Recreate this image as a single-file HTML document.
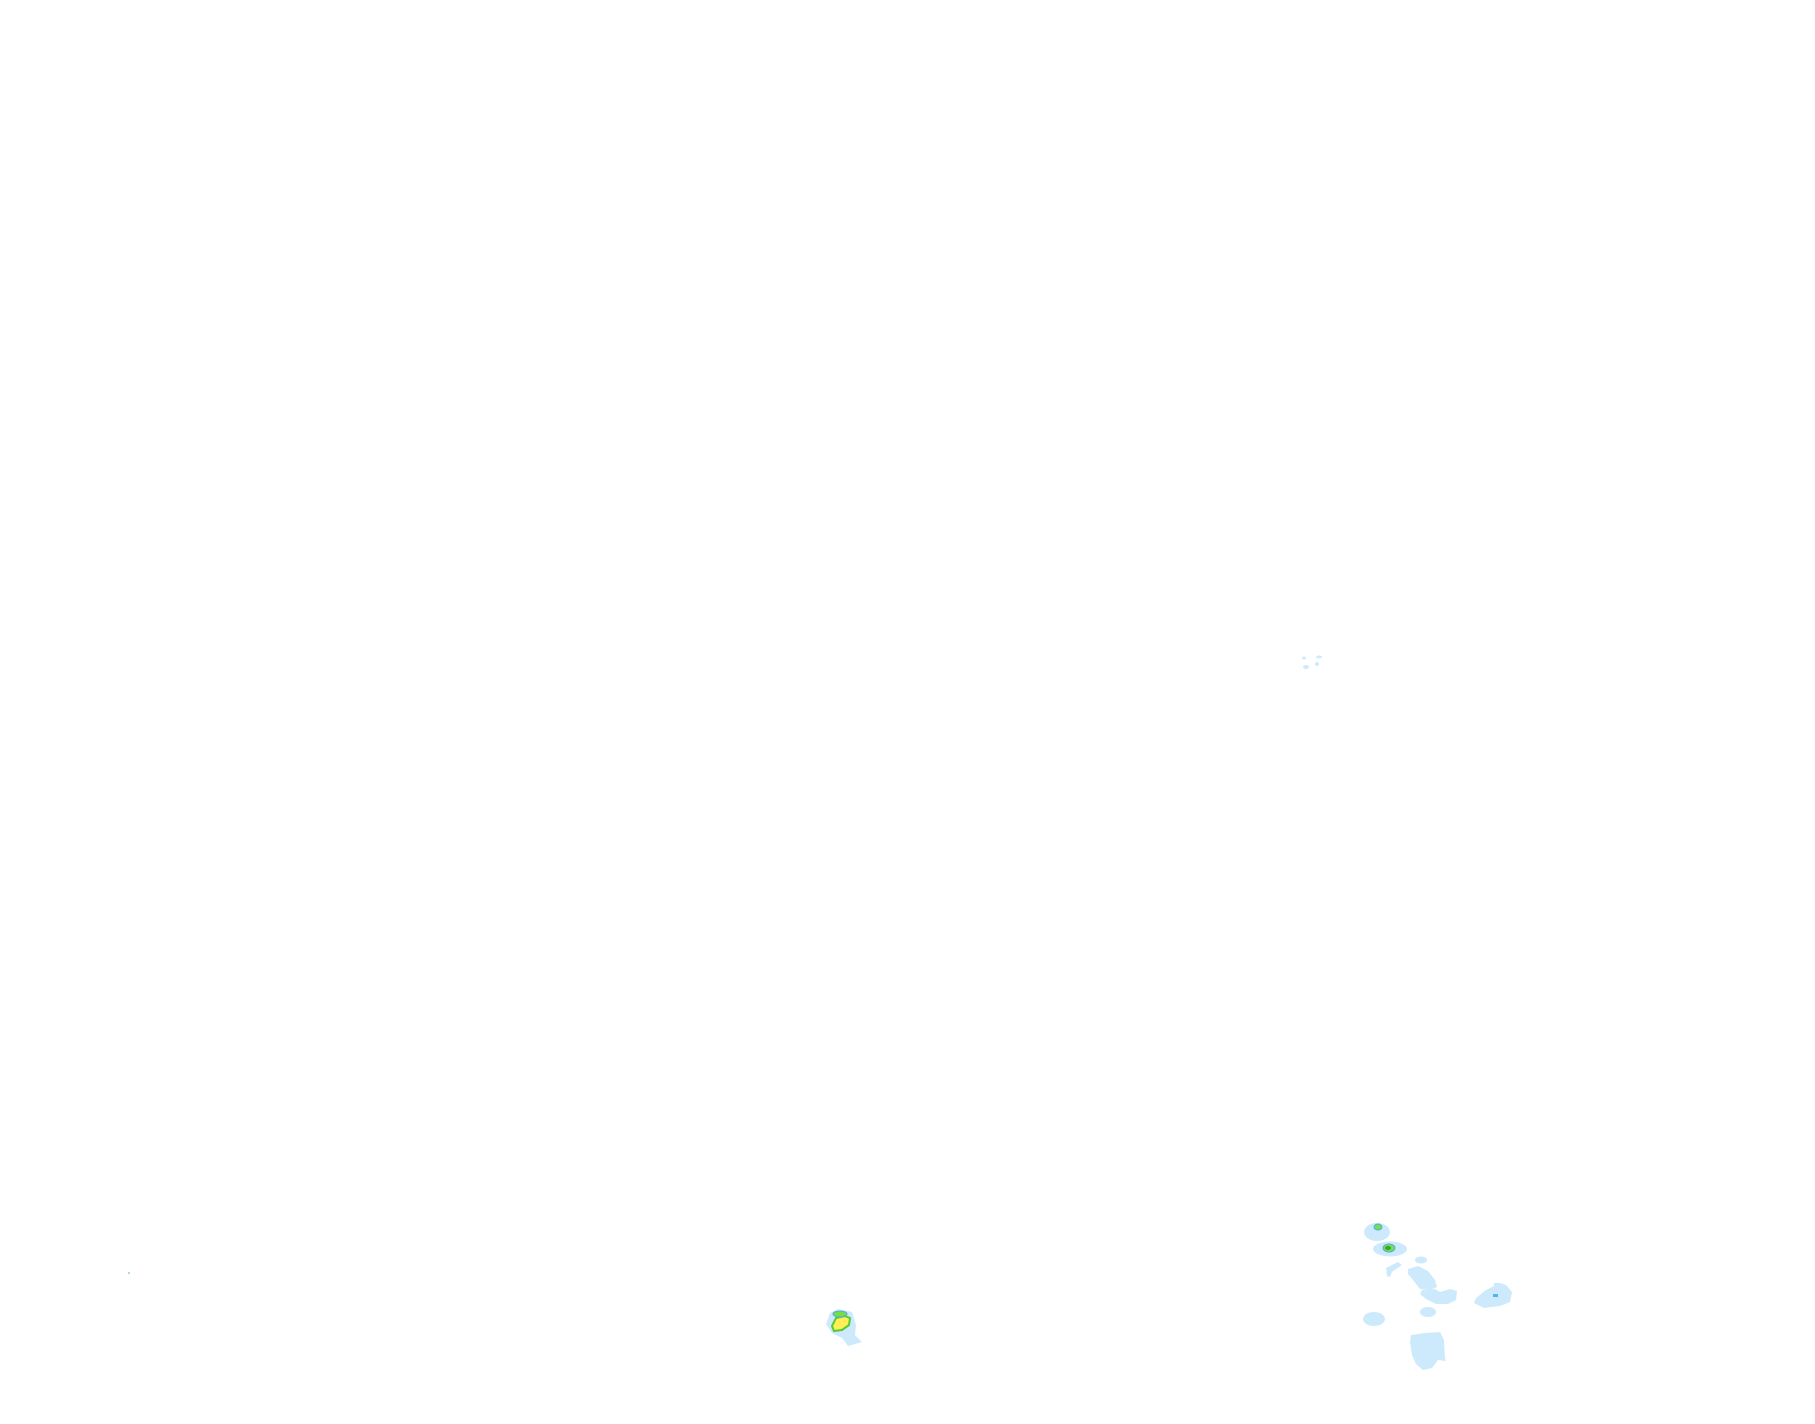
<!DOCTYPE html>
<html><head><meta charset="utf-8"><style>html,body{margin:0;padding:0;background:#fff}svg{display:block}</style></head>
<body>
<svg width="1815" height="1424" viewBox="0 0 1815 1424" xmlns="http://www.w3.org/2000/svg">
<rect width="1815" height="1424" fill="#fff"/>
<g fill="#cdeafd">
<ellipse cx="1304" cy="658" rx="2" ry="1.5"/>
<ellipse cx="1319" cy="657" rx="3" ry="1.5"/>
<ellipse cx="1306" cy="667" rx="3" ry="2"/>
<ellipse cx="1317" cy="664" rx="2" ry="2"/>
<path d="M838 1309 L852 1312 L856 1325 L855 1335 L862 1342 L848 1346 L842 1338 L832 1333 L826 1324 L830 1313 Z"/>
<ellipse cx="1377" cy="1232" rx="13" ry="9"/>
<ellipse cx="1390" cy="1249" rx="17" ry="7.5"/>
<ellipse cx="1421" cy="1260" rx="6" ry="3.5"/>
<path d="M1386 1268 L1398 1262 L1402 1265 L1392 1272 L1390 1277 L1387 1276 Z"/>
<path d="M1408 1269 L1418 1266 L1428 1271 L1435 1280 L1437 1287 L1430 1290 L1420 1289 L1413 1280 L1408 1274 Z"/>
<path d="M1422 1290 L1435 1289 L1440 1292 L1450 1289 L1457 1291 L1456 1300 L1448 1304 L1436 1304 L1426 1299 L1420 1294 Z"/>
<path d="M1476 1298 L1486 1290 L1494 1286 L1494 1283 L1500 1283 L1506 1285 L1512 1292 L1510 1302 L1500 1306 L1484 1308 L1474 1303 Z"/>
<ellipse cx="1428" cy="1312" rx="8" ry="5"/>
<ellipse cx="1374" cy="1319" rx="11" ry="7"/>
<path d="M1411 1335 L1425 1333 L1440 1332 L1444 1340 L1445 1358 L1446 1361 L1438 1360 L1432 1368 L1423 1370 L1416 1364 L1412 1355 L1410 1342 Z"/>
</g>
<path d="M832 1326 L836 1318 L845 1316 L850 1318 L849 1325 L842 1330 L834 1331 Z" fill="#ffee55" stroke="#55cc33" stroke-width="2"/>
<ellipse cx="840" cy="1314" rx="7" ry="3" fill="#77dd44" stroke="#55aadd" stroke-width="1"/>
<ellipse cx="1378" cy="1227" rx="4" ry="3" fill="#77dd55" stroke="#55aadd" stroke-width="1"/>
<ellipse cx="1389" cy="1248" rx="6" ry="4" fill="#77dd55" stroke="#55aadd" stroke-width="1"/>
<ellipse cx="1388" cy="1248" rx="3" ry="2" fill="#33aa22"/>
<rect x="1493" y="1294" width="5" height="3" fill="#55b3ee"/>
<circle cx="129" cy="1273" r="1" fill="#9cd"/>
</svg>
</body></html>
